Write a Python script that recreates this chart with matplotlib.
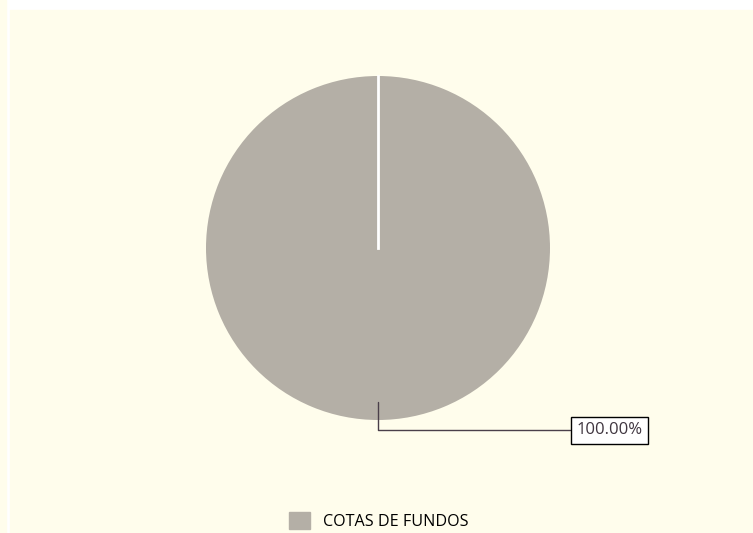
import matplotlib.pyplot as plt
from matplotlib.patches import Rectangle, Patch

plt.rcParams['font.family'] = ['Open Sans', 'DejaVu Sans']

categorias = ['COTAS DE FUNDOS']
valores = [100.0]
cores = ['#b4afa6']
rotulos = ['100.00%']

W, H = 753, 533
fig = plt.figure(figsize=(W / 100, H / 100), dpi=100, facecolor='white')

# fundo creme (com a faixa branca fina no topo e à esquerda)
fundo = '#fffdec'
fig.patches.append(Rectangle((10 / W, 0), 1 - 10 / W, 1 - 10 / H,
                             transform=fig.transFigure, color=fundo, zorder=-5))
fig.patches.append(Rectangle((0, 0), 6 / W, 1,
                             transform=fig.transFigure, color=fundo, zorder=-5))

cx, cy, r = 378, 248, 172
ax = fig.add_axes([0, 0, 1, 1])
ax.axis('off')

wedges, _ = ax.pie(valores, colors=cores, startangle=90, counterclock=False,
                   radius=1, center=(0, 0), wedgeprops=dict(linewidth=0))
ax.set_xlim(-cx / r, (W - cx) / r)
ax.set_ylim(-(H - cy) / r, cy / r)

# separador branco da fatia
ax.plot([0, 0], [0, wedges[0].r], color='white', lw=2, zorder=3)

# rótulo com linha guia
ax.annotate(rotulos[0], xy=(0, -0.895), xytext=(1.153, -1.06),
            fontsize=12, color='#3f353f', ha='left', va='center',
            bbox=dict(boxstyle='square,pad=0.32', fc='white', ec='black', lw=1),
            arrowprops=dict(arrowstyle='-', color='#4a3f4a', lw=1,
                            connectionstyle='angle,angleA=0,angleB=90,rad=0',
                            shrinkA=0, shrinkB=0))

handles = [Patch(color=c, label=l) for c, l in zip(cores, categorias)]
fig.legend(handles=handles, loc='center', bbox_to_anchor=(0.503, 1 - 521 / H),
           frameon=False, fontsize=11.6, handlelength=1.25, handleheight=1.25,
           handletextpad=0.8, labelcolor='black')

fig.savefig('out.png', dpi=100, facecolor=fig.get_facecolor())
